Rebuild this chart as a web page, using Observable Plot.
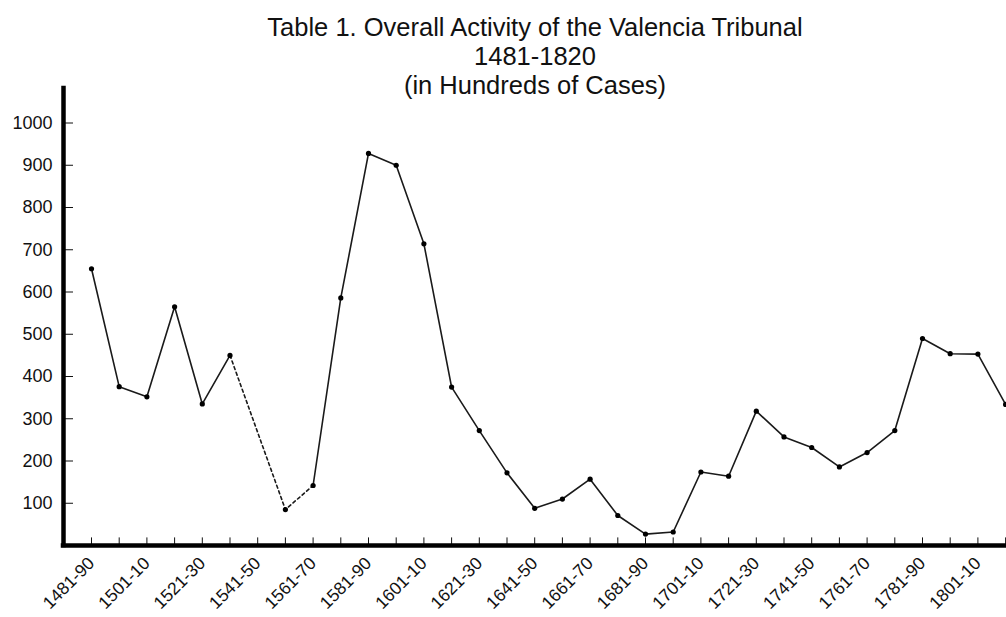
<!DOCTYPE html>
<html>
<head>
<meta charset="utf-8">
<script src="https://cdn.jsdelivr.net/npm/d3@7"></script>
<script src="https://cdn.jsdelivr.net/npm/@observablehq/plot@0.6"></script>
<style>
  html, body { margin: 0; padding: 0; background: #fff; }
  #chart svg { display: block; }
</style>
</head>
<body>
<div id="chart"></div>
<script>
// ---- data ----
const titleLines = [
  "Table 1. Overall Activity of the Valencia Tribunal",
  "1481-1820",
  "(in Hundreds of Cases)"
];
const decades = [
  "1481-90","1491-1500","1501-10","1511-20","1521-30","1531-40","1541-50","1551-60",
  "1561-70","1571-80","1581-90","1591-1600","1601-10","1611-20","1621-30","1631-40",
  "1641-50","1651-60","1661-70","1671-80","1681-90","1691-1700","1701-10","1711-20",
  "1721-30","1731-40","1741-50","1751-60","1761-70","1771-80","1781-90","1791-1800",
  "1801-10","1811-20"
];
const cases = [
  655, 376, 352, 565, 335, 450, null, 85,
  142, 586, 928, 900, 714, 375, 272, 172,
  88, 110, 157, 71, 27, 32, 174, 164,
  318, 257, 232, 186, 220, 272, 490, 454,
  453, 334
];
// decades bridged by a dashed (estimated) segment
const dashedDecades = ["1531-40", "1551-60", "1561-70"];
const labelledDecades = decades.filter((d, i) => i % 2 === 0);
const yTicks = [100, 200, 300, 400, 500, 600, 700, 800, 900, 1000];

// ---- table ----
const rows = decades.map((d, i) => ({decade: d, i, value: cases[i]}));
const idx = d => decades.indexOf(d);
const solidA = rows.filter(r => r.i <= idx("1531-40"));
const solidB = rows.filter(r => r.i >= idx("1561-70"));
const dashed = rows.filter(r => dashedDecades.includes(r.decade));
const pts = rows.filter(r => r.value != null);

const step = 27.7, firstX = 91, left = 63, W = 1006;
const xDomain = [-(firstX - left) / step, (W - firstX) / step];

const font = "'Liberation Sans', Arial, Helvetica, sans-serif";

const chart = Plot.plot({
  width: 1006,
  height: 617,
  marginTop: 88,
  marginBottom: 72,
  marginLeft: 63,
  marginRight: 0,
  style: {fontFamily: font, color: "#111", background: "#fff"},
  x: {type: "linear", domain: xDomain},
  y: {type: "linear", domain: [0, (545 - 88) / 0.4225]},
  marks: [
    // title
    Plot.text([titleLines.join("\n")], {
      frameAnchor: "top", lineAnchor: "bottom", dy: 5,
      fontSize: 25.5, lineHeight: 29 / 25.5, fill: "#111"
    }),
    // y axis labels
    Plot.axisY({ticks: yTicks, tickSize: 0, tickPadding: 11, fontSize: 18, label: null, tickFormat: d => String(d)}),
    // x axis labels
    Plot.axisX({
      ticks: labelledDecades.map(idx), tickFormat: i => decades[i],
      tickRotate: -45, tickSize: 0, tickPadding: 15, fontSize: 17.5, label: null
    }),
    // inward ticks
    Plot.ruleY(yTicks, {y: d => d, x1: xDomain[0], x2: xDomain[0] + 10 / step, stroke: "#111", strokeWidth: 1}),
    Plot.ruleX(rows, {x: "i", y1: 0, y2: 18, stroke: "#111", strokeWidth: 1}),
    // axes lines
    Plot.ruleX([xDomain[0]], {stroke: "#000", strokeWidth: 4.5, strokeLinecap: "square"}),
    Plot.ruleY([0], {stroke: "#000", strokeWidth: 4.5, strokeLinecap: "square"}),
    // data
    Plot.line(solidA, {x: "i", y: "value", stroke: "#1a1a1a", strokeWidth: 1.6}),
    Plot.line(solidB, {x: "i", y: "value", stroke: "#1a1a1a", strokeWidth: 1.6}),
    Plot.line(dashed, {x: "i", y: "value", stroke: "#1a1a1a", strokeWidth: 1.6, strokeDasharray: "3,3"}),
    Plot.dot(pts, {x: "i", y: "value", r: 2.6, fill: "#000", stroke: "none"})
  ]
});
document.getElementById("chart").appendChild(chart);
</script>
</body>
</html>
